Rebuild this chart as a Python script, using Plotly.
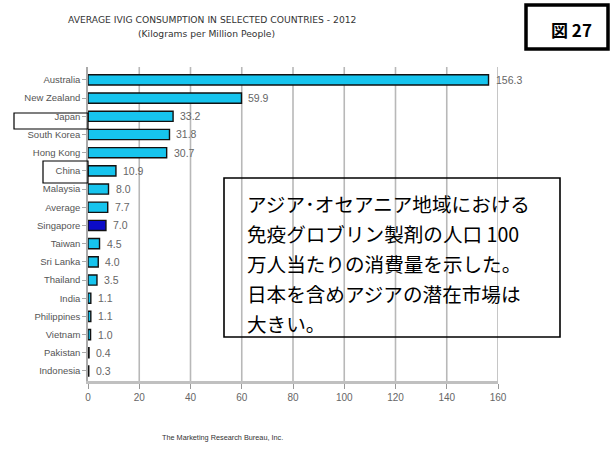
import plotly.graph_objects as go

countries = ["Australia", "New Zealand", "Japan", "South Korea", "Hong Kong", "China",
             "Malaysia", "Average", "Singapore", "Taiwan", "Sri Lanka", "Thailand",
             "India", "Philippines", "Vietnam", "Pakistan", "Indonesia"]
values = [156.3, 59.9, 33.2, 31.8, 30.7, 10.9, 8.0, 7.7, 7.0, 4.5, 4.0, 3.5,
          1.1, 1.1, 1.0, 0.4, 0.3]
value_labels = ["156.3", "59.9", "33.2", "31.8", "30.7", "10.9", "8.0", "7.7", "7.0",
                "4.5", "4.0", "3.5", "1.1", "1.1", "1.0", "0.4", "0.3"]
x_ticks = [0, 20, 40, 60, 80, 100, 120, 140, 160]

note_lines = ["アジア･オセアニア地域における",
              "免疫グロブリン製剤の人口 100",
              "万人当たりの消費量を示した。",
              "日本を含めアジアの潜在市場は",
              "大きい。"]

W, H = 610, 454
L, R, T, B = 88, 498, 67, 381  # plot area in pixels


def px(x):
    return (x - L) / (R - L)


def py(y):
    return (B - y) / (B - T)


bar_colors = ["#0B0BC8" if c == "Singapore" else "#16C4EE" for c in countries]
idx = list(range(len(countries)))

fig = go.Figure(go.Bar(
    x=values, y=idx, orientation="h",
    marker=dict(color=bar_colors, line=dict(color="#111111", width=1.4)),
    width=0.56,
))

fig.update_layout(
    width=W, height=H,
    margin=dict(l=L, r=W - R, t=T, b=H - B, pad=0),
    paper_bgcolor="white", plot_bgcolor="white",
    showlegend=False,
    font=dict(family="Liberation Sans", color="#555555"),
    xaxis=dict(range=[0, 160], tickmode="array", tickvals=x_ticks,
               ticktext=[str(v) for v in x_ticks],
               showgrid=False, zeroline=False, showline=True,
               linecolor="#C0C0C0", linewidth=3,
               ticks="outside", ticklen=5, tickcolor="#999999",
               tickfont=dict(family="Liberation Sans", size=10, color="#666666")),
    yaxis=dict(range=[16.55, -0.71], tickmode="array", tickvals=idx, ticktext=countries,
               showgrid=False, zeroline=False, showline=True,
               linecolor="#AAAAAA", linewidth=1.5,
               ticks="outside", ticklen=4, tickcolor="#AAAAAA",
               tickfont=dict(family="Liberation Sans", size=9.5, color="#555555")),
)

# vertical grid lines behind the bars
for v in x_ticks[1:]:
    fig.add_shape(type="line", xref="x", yref="paper", x0=v, x1=v, y0=0, y1=1,
                  line=dict(color="#B8B8B8", width=1.6), layer="below")

annotations = [
    dict(text="AVERAGE IVIG CONSUMPTION IN SELECTED COUNTRIES - 2012",
         x=px(212), y=py(20), font=dict(family="DejaVu Sans", size=9.2, color="#333333")),
    dict(text="(Kilograms per Million People)",
         x=px(206), y=py(33), font=dict(family="DejaVu Sans", size=9.2, color="#333333")),
    dict(text="The Marketing Research Bureau, Inc.",
         x=px(222), y=py(437), font=dict(family="Liberation Sans", size=7.3, color="#333333")),
    dict(text="<b>図 27</b>",
         x=px(571), y=py(29), font=dict(family="Noto Sans CJK JP", size=17, color="#000000")),
]
for a in annotations:
    a.update(xref="paper", yref="paper", xanchor="center")
for i, line in enumerate(note_lines):
    annotations.append(dict(text=line, x=px(245), y=py(203 + 30.2 * i), xanchor="left",
                            xref="paper", yref="paper",
                            font=dict(family="Noto Sans CJK JP", size=19.6, color="#000000")))
# value labels next to each bar
for v, i, lab in zip(values, idx, value_labels):
    annotations.append(dict(text=lab, x=v, y=i, xref="x", yref="y", xanchor="left",
                            xshift=5, font=dict(family="Liberation Sans", size=10.5,
                                                color="#666666")))
for a in annotations:
    a.update(yanchor="middle", showarrow=False)
fig.update_layout(annotations=annotations)

boxes = [
    (14, 113, 88, 129, 1.2),    # Japan
    (43, 161, 88, 183, 1.2),    # China
    (224, 178, 560, 337, 1.6),  # note
    (526, 5, 608, 49, 3.5),     # figure number
]
for x0, y0, x1, y1, lw in boxes:
    fig.add_shape(type="rect", xref="paper", yref="paper",
                  x0=px(x0), x1=px(x1), y0=py(y1), y1=py(y0),
                  line=dict(color="#000000", width=lw), fillcolor="rgba(0,0,0,0)")

fig.write_html("out.html")
